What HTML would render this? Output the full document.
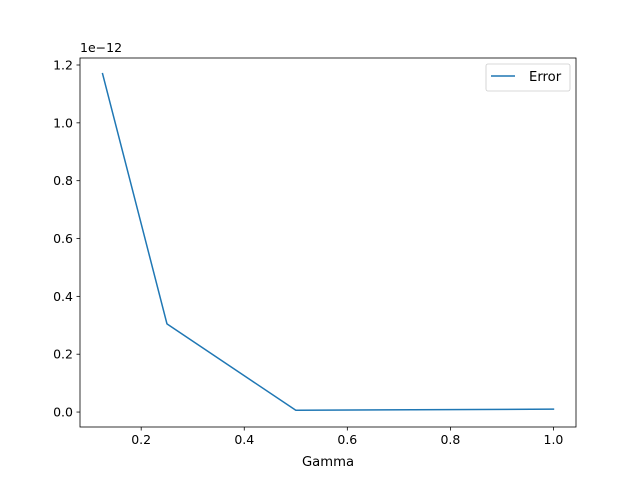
<!DOCTYPE html>
<html><head><meta charset="utf-8"><style>
body{margin:0;background:#fff;}
svg{display:block;font-family:"DejaVu Sans","Liberation Sans",sans-serif;}
</style></head><body>
<svg id="chart" width="640" height="480">
<rect x="0" y="0" width="640" height="480" fill="#fff"/>
<g id="axes"></g>
</svg>
<script>
const gammaValues=[0.125,0.25,0.5,1.0];
const errorValues=[1.17,0.305,0.006,0.01];
const xTicks=[0.2,0.4,0.6,0.8,1.0];
const yTicks=[0.0,0.2,0.4,0.6,0.8,1.0,1.2];
const L=80,R=576,T=58,B=427;
const xMin=0.08125,xMax=1.04375;
const yMin=-0.0517,yMax=1.2242;
const sx=v=>L+(v-xMin)/(xMax-xMin)*(R-L);
const sy=v=>B-(v-yMin)/(yMax-yMin)*(B-T);
const NS="http://www.w3.org/2000/svg";
const g=document.getElementById('axes');
function mk(t,a,txt){const e=document.createElementNS(NS,t);for(const k in a)e.setAttribute(k,a[k]);if(txt!==undefined)e.textContent=txt;g.appendChild(e);return e;}
xTicks.forEach(v=>{const x=sx(v);
const t=mk('line',{x1:x,x2:x,y1:B,y2:B+3.5,stroke:'#000','stroke-width':0.8});


const l=mk('text',{x:x,y:B+17,'text-anchor':'middle','font-size':12.5,fill:'#000'},v.toFixed(1));

});
yTicks.forEach(v=>{const y=sy(v);
const t=mk('line',{x1:L-3.5,x2:L,y1:y,y2:y,stroke:'#000','stroke-width':0.8});


const l=mk('text',{x:L-7,y:y+4.5,'text-anchor':'end','font-size':12.5,fill:'#000'},v.toFixed(1));

});
const pts=gammaValues.map((v,i)=>sx(v).toFixed(2)+','+sy(errorValues[i]).toFixed(2)).join(' ');
const line=mk('polyline',{points:pts,fill:'none',stroke:'#1f77b4','stroke-width':1.5,'stroke-linejoin':'round','stroke-linecap':'square'});


const frame=mk('rect',{x:L,y:T,width:R-L,height:B-T,fill:'none',stroke:'#000','stroke-width':0.8});


const off=mk('text',{x:L,y:T-6,'font-size':12.5,fill:'#000'},'1e\u221212');


const xl=mk('text',{x:(L+R)/2,y:466,'text-anchor':'middle','font-size':13.2,fill:'#000'},'Gamma');


const lg=mk('rect',{x:486,y:64,width:84,height:27,rx:2,fill:'#fff',stroke:'#ccc','stroke-width':0.8});


const ls=mk('line',{x1:491,x2:515,y1:76,y2:76,stroke:'#1f77b4','stroke-width':1.5});


const lt=mk('text',{x:529,y:81,'font-size':13.2,fill:'#000'},'Error');


</script>
</body></html>
